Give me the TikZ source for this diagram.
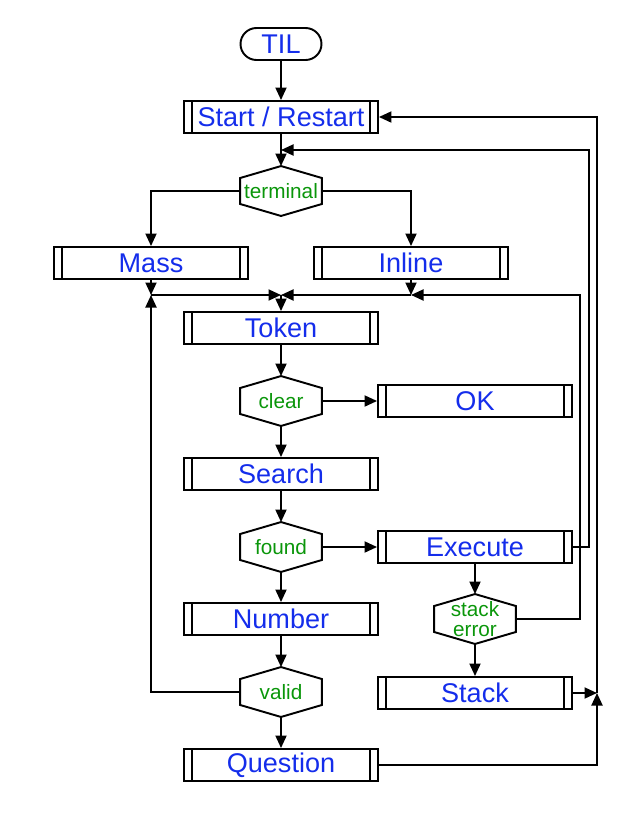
\documentclass[tikz,border=0pt]{standalone}
\usepackage{fontspec}
\setmainfont{Liberation Sans}
\usepackage{tikz}
\usetikzlibrary{arrows.meta, positioning, calc}
\definecolor{tilblue}{RGB}{20,45,235}
\definecolor{tilgreen}{RGB}{10,150,10}
\newcommand{\boxfont}{\fontsize{15.4}{18}\selectfont}
\newcommand{\condfont}{\fontsize{11.8}{11.6}\selectfont}
\tikzset{every picture/.style={line width=1.1pt}, % All lines a bit heavy
    >={Triangle[length=0.25cm,width=0.22cm]}, % Solid arrow heads
    terminator/.style={ % Rounded start node
    draw, rectangle, rounded corners=0.32cm,
    minimum width=1.62cm, minimum height=0.64cm, inner sep=0pt,
    text=tilblue, font=\boxfont},
    process/.style={ % Box with a double bar at both ends
    draw, rectangle, minimum width=3.88cm, minimum height=0.64cm, inner sep=0pt,
    text=tilblue, font=\boxfont,
    path picture={
      \draw ([xshift=0.16cm]path picture bounding box.north west) -- ([xshift=0.16cm]path picture bounding box.south west)
            ([xshift=-0.16cm]path picture bounding box.north east) -- ([xshift=-0.16cm]path picture bounding box.south east);}},
    decision/.style={ % Hexagon, pointed at top and bottom
    rectangle, minimum width=1.6cm, minimum height=0.96cm, inner sep=0pt,
    align=center, text=tilgreen, font=\condfont,
    append after command={\pgfextra{\let\hexnode\tikzlastnode
      \draw[line join=miter]
      (\hexnode.north) -- ([yshift=-0.24cm]\hexnode.north west)
      -- ([yshift=0.24cm]\hexnode.south west) -- (\hexnode.south)
      -- ([yshift=0.24cm]\hexnode.south east) -- ([yshift=-0.24cm]\hexnode.north east)
      -- cycle;}}}}

\begin{document}
\begin{tikzpicture}[x=0.02cm, y=-0.02cm]
    \useasboundingbox (0, 0) rectangle (644, 835);

    % Outer interpreter
    \node[terminator] (til) at (281, 44) {TIL};
    \node[process] (start) at (281, 117) {Start / Restart};
    \node[decision] (terminal) at (281, 191) {terminal};
    \node[process] (mass) at (151, 263) {Mass};
    \node[process] (inline) at (411, 263) {Inline};

    % Main loop
    \node[process] (token) at (281, 328) {Token};
    \node[decision] (clear) at (281, 401) {clear};
    \node[process] (ok) at (475, 401) {OK};
    \node[process] (search) at (281, 474) {Search};
    \node[decision] (found) at (281, 547) {found};
    \node[process] (execute) at (475, 547) {Execute};
    \node[process] (number) at (281, 619) {Number};
    \node[decision] (stackerr) at (475, 619) {stack\\error};
    \node[decision] (valid) at (281, 692) {valid};
    \node[process] (stack) at (475, 693) {Stack};
    \node[process] (question) at (281, 765) {Question};

    % Joins
    \coordinate (restartin) at (281, 150);
    \coordinate (massjoin) at (151, 295);
    \coordinate (tokenjoin) at (281, 295);
    \coordinate (inlinejoin) at (411, 295);
    \coordinate (stackjoin) at (597, 693);

    \draw[->] (til) -- (start);
    \draw[->] (start) -- (terminal);
    \draw[->] (terminal.west) -| (mass.north);
    \draw[->] (terminal.east) -| (inline.north);
    \draw[->] (mass) -- (massjoin);
    \draw[->] (inline) -- (inlinejoin);
    \draw[->] (massjoin) -- (tokenjoin);
    \draw[->] (inlinejoin) -- (tokenjoin);
    \draw[->] (tokenjoin) -- (token);
    \draw[->] (token) -- (clear);
    \draw[->] (clear) -- (search);
    \draw[->] (clear) -- (ok);
    \draw[->] (search) -- (found);
    \draw[->] (found) -- (number);
    \draw[->] (found) -- (execute);
    \draw[->] (number) -- (valid);
    \draw[->] (valid) -- (question);
    \draw[->] (execute) -- (stackerr);
    \draw[->] (stackerr) -- (stack);

    % Loops back
    \draw[->] (valid.west) -| (massjoin);
    \draw[->] (stackerr.east) -- ++(64, 0) |- (inlinejoin);
    \draw[->] (execute.east) -- ++(16, 0) |- (restartin);
    \draw[->] (stack) -- (stackjoin);
    \draw[->] (question.east) -| (stackjoin);
    \draw[->] (stackjoin) |- (start.east);
\end{tikzpicture}
\end{document}
